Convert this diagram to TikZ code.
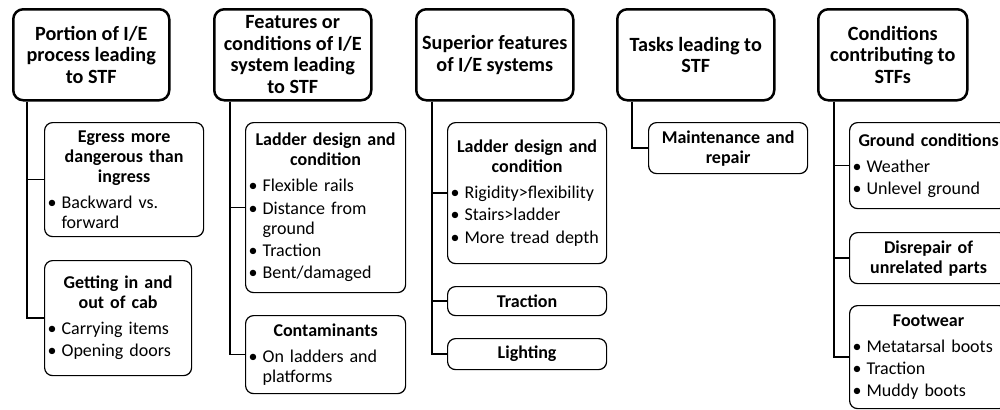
\documentclass[tikz,border=0pt]{standalone}
\usepackage{fontspec}
\setmainfont{Carlito}
\newdimen\pxl \pxl=0.5pt
\newdimen\bulw \bulw=7pt
\newcommand\nl{\hfil\break}
\newcommand\hd[1]{{\centering\bfseries #1\par}\vspace{1.7pt}}
\newcommand\itm[1]{\par\vspace{1.2pt}\hangindent=\bulw\hangafter=1\noindent\makebox[\bulw][l]{\textbullet}#1\par}
\tikzset{
  head/.style={draw, line width=1.25pt, rounded corners=5pt, anchor=north west,
    align=center, inner sep=0pt, font=\fontsize{10.1}{10.75}\selectfont\bfseries},
  sub/.style={draw, line width=0.6pt, rounded corners=4pt, anchor=north west,
    align=left, inner xsep=1.5pt, inner ysep=0pt, font=\fontsize{9}{10}\selectfont},
  link/.style={line width=0.7pt},
}
\begin{document}
\begin{tikzpicture}[x=0.5pt,y=-0.5pt]
                \useasboundingbox (0,0) rectangle (1000,409);
                %% top row
                \node[head,minimum width=156\pxl,minimum height=91\pxl] (h1) at (12,8) {Portion of I/E\\process leading\\to STF};
                \node[head,minimum width=157\pxl,minimum height=91\pxl] (h2) at (213,8) {Features or\\conditions of I/E\\system leading\\to STF};
                \node[head,minimum width=157\pxl,minimum height=91\pxl] (h3) at (415,8) {Superior features\\of I/E systems};
                \node[head,minimum width=157\pxl,minimum height=91\pxl] (h4) at (616,8) {Tasks leading to\\STF};
                \node[head,minimum width=149\pxl,minimum height=91\pxl] (h5) at (817,8) {Conditions\\contributing to\\STFs};
                %% first column
                \node[sub,text width=153\pxl,minimum height=114\pxl] (c11) at (44,122) {\hd{Egress more\\dangerous than\\ingress}\itm{Backward vs.\nl forward}};
                \node[sub,text width=141\pxl,minimum height=115\pxl] (c12) at (44,260) {\hd{Getting in and\\out of cab}\itm{Carrying items}\itm{Opening doors}};
                \coordinate (t1) at ([xshift=15\pxl]h1.south west);
                \draw[link] (t1) |- (c11.west);
                \draw[link] (t1) |- (c12.west);
                %% second column
                \node[sub,text width=154\pxl,minimum height=170\pxl] (c21) at (245,122) {\hd{Ladder design and\\condition}\itm{Flexible rails}\itm{Distance from\nl ground}\itm{Traction}\itm{Bent/damaged}};
                \node[sub,text width=154\pxl,minimum height=78\pxl] (c22) at (245,315) {\hd{Contaminants}\itm{On ladders and\nl platforms}};
                \coordinate (t2) at ([xshift=17\pxl]h2.south west);
                \draw[link] (t2) |- (c21.west);
                \draw[link] (t2) |- (c22.west);
                %% third column
                \node[sub,text width=153\pxl,minimum height=141\pxl] (c31) at (447,122) {\hd{Ladder design and\\condition}\itm{Rigidity>flexibility}\itm{Stairs>ladder}\itm{More tread depth}};
                \node[sub,text width=153\pxl,minimum height=29\pxl] (c32) at (447,286) {\hd{Traction}};
                \node[sub,text width=153\pxl,minimum height=31\pxl] (c33) at (447,338) {\hd{Lighting}};
                \coordinate (t3) at ([xshift=17\pxl]h3.south west);
                \draw[link] (t3) |- (c31.west);
                \draw[link] (t3) |- (c32.west);
                \draw[link] (t3) |- (c33.west);
                %% fourth column
                \node[sub,text width=153\pxl,minimum height=51\pxl] (c41) at (648,122) {\hd{Maintenance and\\repair}};
                \coordinate (t4) at ([xshift=16\pxl]h4.south west);
                \draw[link] (t4) |- (c41.west);
                %% fifth column, cut at the right edge
                \node[sub,text width=152\pxl,minimum height=86\pxl] (c51) at (849,122) {\hd{Ground conditions}\itm{Weather}\itm{Unlevel ground}};
                \node[sub,text width=152\pxl,minimum height=51\pxl] (c52) at (849,232) {\hd{Disrepair of\\unrelated parts}};
                \node[sub,text width=152\pxl,minimum height=103\pxl] (c53) at (849,305) {\hd{Footwear}\itm{Metatarsal boots}\itm{Traction}\itm{Muddy boots}};
                \coordinate (t5) at ([xshift=17\pxl]h5.south west);
                \draw[link] (t5) |- (c51.west);
                \draw[link] (t5) |- (c52.west);
                \draw[link] (t5) |- (c53.west);
\end{tikzpicture}
\end{document}
